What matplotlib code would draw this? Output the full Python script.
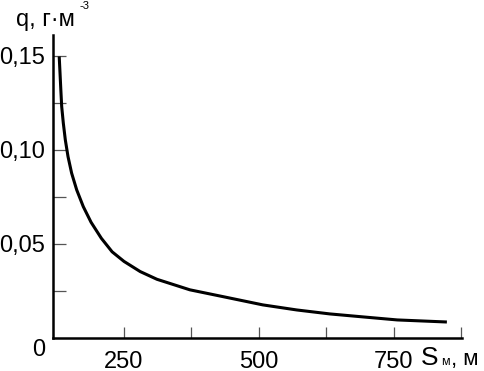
import matplotlib
matplotlib.use('Agg')
import matplotlib.pyplot as plt
from matplotlib.ticker import FixedLocator

plt.rcParams['font.family'] = ['Liberation Sans', 'DejaVu Sans']

# Data
distance = [130, 131.5, 133, 134.6, 137.6, 141.3, 146.3, 153, 162.4, 174.6,
            189, 208, 228, 250, 280, 311, 372, 433, 507, 570, 631, 693, 756, 848]
concentration = [0.1496, 0.1408, 0.1319, 0.1230, 0.1142, 0.1053, 0.0964,
                 0.0876, 0.0787, 0.0698, 0.0615, 0.0530, 0.0458, 0.0407,
                 0.0353, 0.0312, 0.0256, 0.0220, 0.0176, 0.0149, 0.0128,
                 0.0112, 0.0096, 0.0085]

x_major = [250, 375, 500, 625, 750, 875]
x_labels = ['250', '', '500', '', '750', '']
y_major = [0.05, 0.10, 0.15]
y_labels = ['0,05', '0,10', '0,15']
y_minor = [0.025, 0.075, 0.125]

W, H = 485, 371
fig = plt.figure(figsize=(W / 100, H / 100), dpi=100)
ax = fig.add_axes([53 / W, (H - 338) / H, (462 - 53) / W, (338 - 35) / H])

ax.plot(distance, concentration, color='black', lw=2.2, solid_capstyle='butt')

ax.set_xlim(118.5, 876)
ax.set_ylim(0, 0.161)

for side in ['top', 'right']:
    ax.spines[side].set_visible(False)
for side in ['left', 'bottom']:
    ax.spines[side].set_linewidth(1.8)

ax.xaxis.set_major_locator(FixedLocator(x_major))
ax.set_xticklabels(x_labels)
ax.yaxis.set_major_locator(FixedLocator(y_major))
ax.set_yticklabels(y_labels)
ax.yaxis.set_minor_locator(FixedLocator(y_minor))

ax.tick_params(axis='x', direction='in', length=8, width=0.9, color='#555555',
               labelsize=17, pad=9)
ax.tick_params(axis='y', which='both', direction='in', length=9, width=0.9,
               color='#555555', labelsize=17, pad=6)

# corner zero, axis titles
fig.text(39 / W, 1 - 350 / H, '0', fontsize=17, ha='center', va='center')
fig.text(16 / W, 1 - 26 / H, 'q, г·м', fontsize=17, ha='left', va='baseline')
fig.text(80 / W, 1 - 9 / H, '-3', fontsize=8, ha='left', va='baseline')
fig.text(421 / W, 1 - 365 / H, 'S', fontsize=19, ha='left', va='baseline')
fig.text(441 / W, 1 - 365 / H, 'м', fontsize=9, ha='left', va='baseline')
fig.text(451 / W, 1 - 365 / H, ', м', fontsize=16, ha='left', va='baseline')

fig.savefig('out.png', dpi=100)
